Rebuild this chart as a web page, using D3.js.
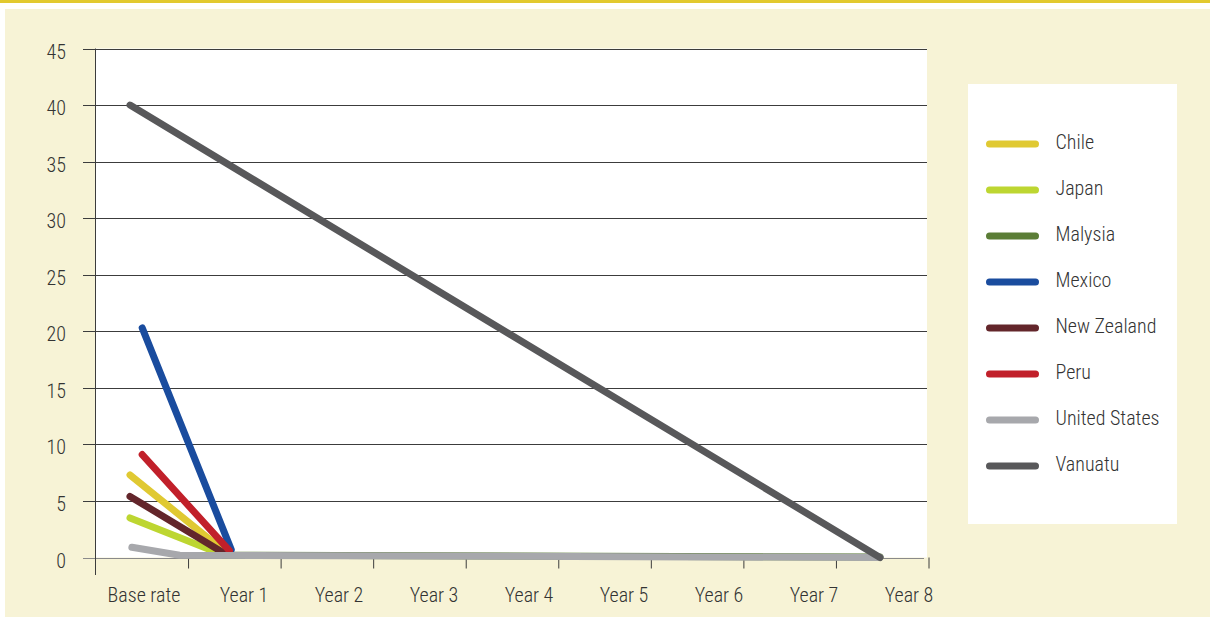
<!DOCTYPE html>
<html>
<head>
<meta charset="utf-8">
<script src="https://cdn.jsdelivr.net/npm/d3@7/dist/d3.min.js"></script>
<style>
    body { margin: 0; background: #ffffff; }
    svg text {
        font-family: "Roboto Condensed", "Liberation Sans Narrow", "Arial Narrow", "Liberation Sans", sans-serif;
        font-size: 20px;
        font-weight: 300;
        fill: #333333;
    }
</style>
</head>
<body>
<svg id="chart" width="1210" height="617"></svg>
<script>
// x categories and y ticks
const categories = ["Base rate", "Year 1", "Year 2", "Year 3", "Year 4", "Year 5", "Year 6", "Year 7", "Year 8"];
const yTicks = [0, 5, 10, 15, 20, 25, 30, 35, 40, 45];

const countries = ["Chile", "Japan", "Malysia", "Mexico", "New Zealand", "Peru", "United States", "Vanuatu"];
const colors = ["#e0c932", "#bdd631", "#5b7d36", "#1a4c9e", "#63262b", "#c1202a", "#a7a8ac", "#58585a"];

// each point: [position in years after base rate, rate]
const chile = [[0, 7.3], [1.03, 0.4]];
const japan = [[0, 3.5], [0.97, 0.3]];
const malysia = [[1, 0.2], [8, 0.05]];
const mexico = [[0.13, 20.3], [1.08, 0.7]];
const newZealand = [[0, 5.4], [1.0, 0.4]];
const peru = [[0.13, 9.1], [1.06, 0.6]];
const unitedStates = [[0.02, 0.9], [0.53, 0.2], [8, 0]];
const vanuatu = [[0, 40], [8, 0]];
const seriesValues = [chile, japan, malysia, mexico, newZealand, peru, unitedStates, vanuatu];

const svg = d3.select("#chart");

// page frame: yellow rule on top, cream panel
svg.append("rect").attr("x", 0).attr("y", 0).attr("width", 1210).attr("height", 3).attr("fill", "#e2c92f");
svg.append("rect").attr("x", 5).attr("y", 9).attr("width", 1205).attr("height", 608).attr("fill", "#f7f3d6");

const plot = { left: 95, right: 927, top: 48.5, bottom: 557.5 };

const yScale = d3.scaleLinear().domain([0, 45]).range([plot.bottom, plot.top]);
// band edges for the tick marks
const tickScale = d3.scaleLinear().domain([0, categories.length]).range([plot.left, 928]);
// label centres (the first label sits a little left of its slot)
const labelScale = d3.scalePoint().domain(categories).range([149, 909]);
// line positions
const xScale = d3.scaleLinear().domain([0, 8]).range([130, 880]);

svg.append("rect")
    .attr("x", plot.left)
    .attr("y", plot.top)
    .attr("width", plot.right - plot.left)
    .attr("height", plot.bottom - plot.top)
    .attr("fill", "#ffffff");

// horizontal grid, running out over the tick marks
svg.append("g")
    .attr("class", "grid")
    .selectAll("line")
    .data(yTicks)
    .enter()
    .append("line")
    .attr("x1", 83)
    .attr("x2", d => d === 0 ? 924 : plot.right)
    .attr("y1", d => Math.round(yScale(d)) + 0.5)
    .attr("y2", d => Math.round(yScale(d)) + 0.5)
    .attr("stroke", d => d === 0 ? "#8a8a8a" : "#3c3c3c")
    .attr("stroke-width", 1);

// y labels
svg.append("g")
    .selectAll("text")
    .data(yTicks)
    .enter()
    .append("text")
    .attr("x", 66)
    .attr("y", d => yScale(d) + 10)
    .style("text-anchor", "end")
    .text(d => d);

// y axis line
svg.append("line")
    .attr("x1", plot.left + 0.5).attr("x2", plot.left + 0.5)
    .attr("y1", plot.top).attr("y2", 575)
    .attr("stroke", "#3c3c3c");

// x tick marks
const xAxis = svg.append("g")
    .attr("transform", `translate(0.5,${plot.bottom})`)
    .call(d3.axisBottom(tickScale).tickValues(d3.range(1, categories.length + 1)).tickSize(11).tickFormat(""));
xAxis.select(".domain").remove();
xAxis.selectAll("line").attr("stroke", "#3c3c3c");

// x labels
svg.append("g")
    .selectAll("text")
    .data(categories)
    .enter()
    .append("text")
    .attr("x", d => labelScale(d))
    .attr("dx", (d, i) => i === 0 ? -5 : 0)
    .attr("y", 601.5)
    .style("text-anchor", "middle")
    .text(d => d);

// series lines
const line = d3.line().x(d => xScale(d[0])).y(d => yScale(d[1]));

svg.append("g")
    .selectAll("path")
    .data(seriesValues)
    .enter()
    .append("path")
    .attr("d", d => line(d))
    .attr("fill", "none")
    .attr("stroke", (d, i) => colors[i])
    .attr("stroke-width", 7)
    .attr("stroke-linecap", "round")
    .attr("stroke-linejoin", "round");

// legend
const legend = svg.append("g").attr("transform", "translate(968,84)");
legend.append("rect").attr("width", 209).attr("height", 440).attr("fill", "#ffffff");

const legendItem = legend.selectAll(".legend-item")
    .data(countries)
    .enter()
    .append("g")
    .attr("class", "legend-item")
    .attr("transform", (d, i) => `translate(0,${60 + i * 46})`);

legendItem.append("line")
    .attr("x1", 21.5).attr("x2", 67.5)
    .attr("stroke", (d, i) => colors[i])
    .attr("stroke-width", 7)
    .attr("stroke-linecap", "round");

legendItem.append("text")
    .attr("x", 87.5)
    .attr("y", 5)
    .text(d => d);
</script>
</body>
</html>
